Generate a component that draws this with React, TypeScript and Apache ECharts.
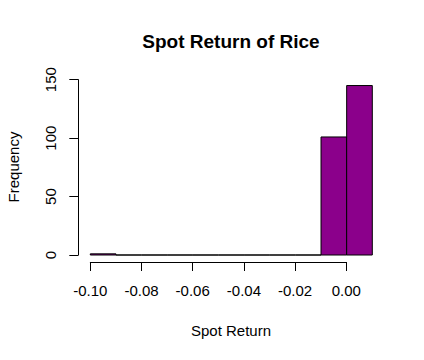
import React, { useEffect, useRef } from "react";
import * as echarts from "echarts";

const binStarts = [-0.1, -0.09, -0.08, -0.07, -0.06, -0.05, -0.04, -0.03, -0.02, -0.01, 0.0];
const binWidth = 0.01;
const counts = [1, 0, 0, 0, 0, 0, 0, 0, 0, 101, 145];
const yTicks = [0, 50, 100, 150];
const titleText = "Spot Return of Rice";
const xName = "Spot Return";
const yName = "Frequency";

const FONT = "'Liberation Sans', Arial, sans-serif";

export default function App() {
  const ref = useRef<HTMLDivElement>(null);
  useEffect(() => {
    document.body.style.margin = "0";
    const chart = echarts.init(ref.current!, undefined, { renderer: "svg" });
    const data = binStarts.map((s, i) => [s, s + binWidth, counts[i]]);
    const axisColor = { color: "#000", width: 1 };
    chart.setOption({
      animation: false,
      backgroundColor: "#ffffff",
      grid: [
        { left: 90.3, right: 51.7, top: 79.7, bottom: 105 },
        { left: 90.3, right: 77.7, top: 79.7, bottom: 98 },
        { left: 78.3, right: 51.7, top: 79.7, bottom: 105 },
      ],
      xAxis: [
        { type: "value", gridIndex: 0, min: -0.1, max: 0.01, show: false, axisLine: { onZero: false } },
        {
          type: "value",
          gridIndex: 1,
          min: -0.1,
          max: 0,
          interval: 0.02,
          axisLine: { show: true, onZero: false, lineStyle: axisColor },
          axisTick: { show: true, length: 9, lineStyle: axisColor },
          splitLine: { show: false },
          axisLabel: {
            color: "#000",
            fontSize: 15,
            fontFamily: FONT,
            margin: 21,
            formatter: (v: number) => v.toFixed(2),
          },
        },
        { type: "value", gridIndex: 2, min: 0, max: 1, show: false, axisLine: { onZero: false } },
      ],
      yAxis: [
        { type: "value", gridIndex: 0, min: 0, max: 150, show: false, axisLine: { onZero: false } },
        { type: "value", gridIndex: 1, min: 0, max: 150, show: false, axisLine: { onZero: false } },
        {
          type: "value",
          gridIndex: 2,
          position: "left",
          min: yTicks[0],
          max: yTicks[yTicks.length - 1],
          interval: 50,
          axisLine: { show: true, onZero: false, lineStyle: axisColor },
          axisTick: { show: true, length: 9, lineStyle: axisColor },
          splitLine: { show: false },
          axisLabel: {
            color: "#000",
            fontSize: 15,
            fontFamily: FONT,
            rotate: 90,
            align: "center",
            verticalAlign: "middle",
            margin: 28,
          },
        },
      ],
      series: [
        {
          type: "custom",
          xAxisIndex: 0,
          yAxisIndex: 0,
          data,
          renderItem: (params: any, api: any) => {
            const p0 = api.coord([api.value(0), api.value(2)]);
            const p1 = api.coord([api.value(1), 0]);
            return {
              type: "rect",
              shape: { x: p0[0], y: p0[1], width: p1[0] - p0[0], height: p1[1] - p0[1] },
              style: { fill: "#8B008B", stroke: "#000", lineWidth: 1 },
            };
          },
        },
      ],
      graphic: [
        {
          type: "text",
          x: 231,
          y: 41,
          style: {
            text: titleText,
            font: `bold 19px ${FONT}`,
            fill: "#000",
            textAlign: "center",
            textVerticalAlign: "middle",
          },
        },
        {
          type: "text",
          x: 231,
          y: 330,
          style: {
            text: xName,
            font: `15px ${FONT}`,
            fill: "#000",
            textAlign: "center",
            textVerticalAlign: "middle",
          },
        },
        {
          type: "text",
          x: 13,
          y: 167,
          rotation: Math.PI / 2,
          style: {
            text: yName,
            font: `15px ${FONT}`,
            fill: "#000",
            textAlign: "center",
            textVerticalAlign: "middle",
          },
        },
      ],
    });
    return () => chart.dispose();
  }, []);
  return <div ref={ref} style={{ width: 424, height: 360 }} />;
}
